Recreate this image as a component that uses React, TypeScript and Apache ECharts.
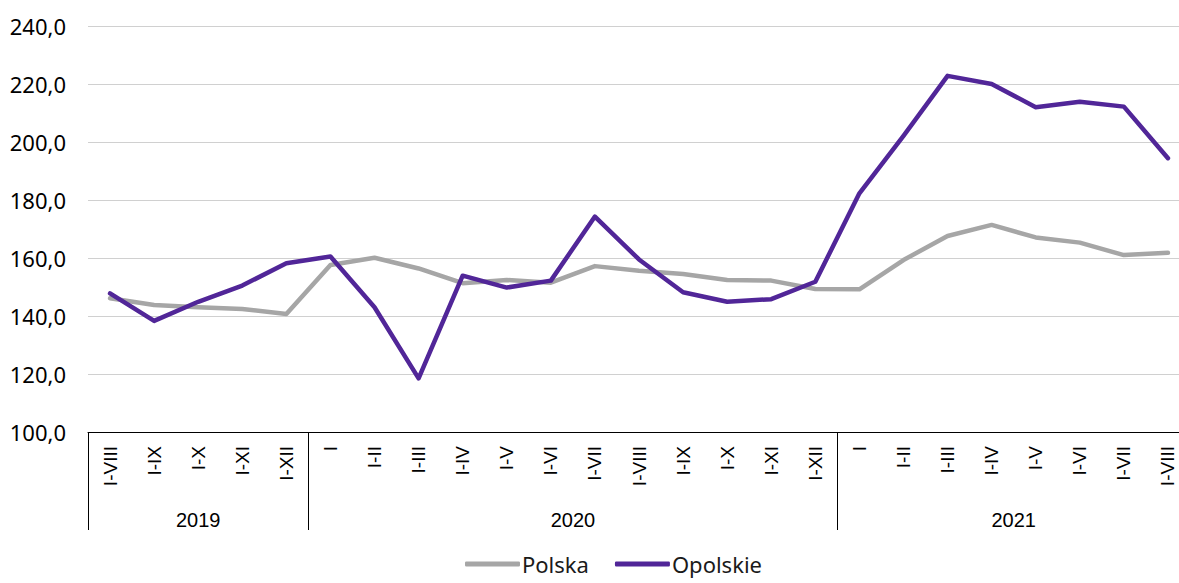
import React, { useEffect, useRef } from "react";
import * as echarts from "echarts";

const categories = [
  "I-VIII", "I-IX", "I-X", "I-XI", "I-XII",
  "I", "I-II", "I-III", "I-IV", "I-V", "I-VI", "I-VII", "I-VIII", "I-IX", "I-X", "I-XI", "I-XII",
  "I", "I-II", "I-III", "I-IV", "I-V", "I-VI", "I-VII", "I-VIII",
];

const polska = [
  146.1, 143.8, 143.0, 142.4, 140.7,
  157.6, 160.1, 156.4, 151.3, 152.4, 151.5, 157.2, 155.6, 154.5, 152.4, 152.2, 149.3,
  149.2, 159.3, 167.6, 171.4, 167.1, 165.3, 161.0, 161.8,
];

const opolskie = [
  147.8, 138.3, 144.9, 150.5, 158.2,
  160.5, 143.0, 118.5, 153.9, 149.8, 152.2, 174.3, 159.5, 148.2, 144.9, 145.8, 151.8,
  182.3, 202.1, 222.8, 220.0, 212.0, 213.9, 212.2, 194.4,
];

const years = ["2019", "2020", "2021"];
const yearBounds = [0, 5, 17, 25];
const yearCenters = [2.5, 11, 21];

const yTicks = { min: 100, max: 240, interval: 20 };

export default function App() {
  const ref = useRef<HTMLDivElement>(null);

  useEffect(() => {
    if (!ref.current) return;
    const chart = echarts.init(ref.current, null, { renderer: "svg" });
    chart.setOption({
      animation: false,
      grid: {
        left: 88,
        right: -11,
        top: 26,
        bottom: 151,
        containLabel: false,
        outerBoundsMode: "none",
      },
      legend: {
        left: 465,
        top: 553,
        padding: 0,
        itemWidth: 55,
        itemHeight: 5,
        itemGap: 26,
        icon: "roundRect",
        textStyle: {
          fontFamily: "Noto Sans",
          fontSize: 22,
          lineHeight: 22,
          color: "#1a1a1a",
          padding: [0, 0, 0, -3],
        },
        data: ["Polska", "Opolskie"],
      },
      xAxis: [
        {
          type: "category",
          data: categories,
          boundaryGap: true,
          axisLine: { show: true, lineStyle: { color: "#000", width: 1 } },
          axisTick: { show: false },
          axisLabel: {
            rotate: 90,
            interval: 0,
            margin: 14,
            fontFamily: "Liberation Sans",
            fontSize: 19,
            color: "#000",
          },
          splitLine: { show: false },
        },
        {
          type: "value",
          min: 0,
          max: 25,
          position: "bottom",
          axisLine: { show: false },
          axisTick: {
            show: true,
            customValues: yearBounds,
            length: 98,
            lineStyle: { color: "#000", width: 1 },
          },
          axisLabel: {
            customValues: yearCenters,
            margin: 78,
            fontFamily: "Liberation Sans",
            fontSize: 20,
            color: "#000",
            formatter: (v: number) => {
              const i = yearCenters.indexOf(v);
              return i >= 0 ? years[i] : "";
            },
          },
          splitLine: { show: false },
        },
      ],
      yAxis: {
        type: "value",
        min: yTicks.min,
        max: yTicks.max,
        interval: yTicks.interval,
        axisLine: { show: false },
        axisTick: { show: false },
        axisLabel: {
          margin: 22,
          fontFamily: "Noto Sans",
          fontSize: 22,
          color: "#000",
          formatter: (v: number) => v.toFixed(1).replace(".", ","),
        },
        splitLine: { show: true, lineStyle: { color: "#d0d0d0", width: 1 } },
      },
      series: [
        {
          name: "Polska",
          type: "line",
          data: polska,
          xAxisIndex: 0,
          symbol: "none",
          lineStyle: { color: "#a6a6a6", width: 4.5, join: "round", cap: "round" },
          itemStyle: { color: "#a6a6a6" },
        },
        {
          name: "Opolskie",
          type: "line",
          data: opolskie,
          xAxisIndex: 0,
          symbol: "none",
          lineStyle: { color: "#512698", width: 4.5, join: "round", cap: "round" },
          itemStyle: { color: "#512698" },
        },
      ],
    });
    return () => chart.dispose();
  }, []);

  return (
    <div
      ref={ref}
      style={{ position: "absolute", left: 0, top: 0, width: 1179, height: 583 }}
    />
  );
}
